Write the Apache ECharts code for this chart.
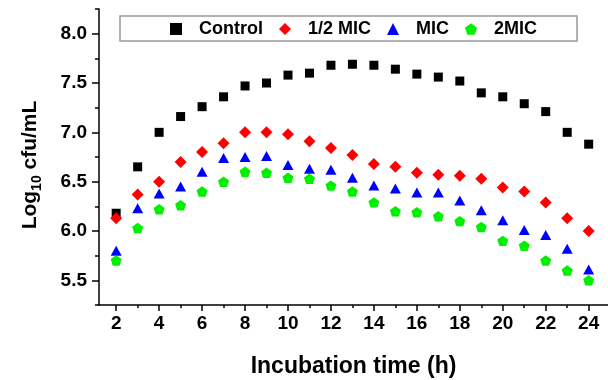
<!DOCTYPE html>
<html>
<head>
<meta charset="utf-8">
<script src="https://cdn.jsdelivr.net/npm/echarts@6/dist/echarts.min.js"></script>
<style>
  html, body { margin: 0; padding: 0; background: #fff; }
  #chart { width: 608px; height: 380px; }
</style>
</head>
<body>
<div id="chart"></div>
<script>
// incubation hours
const hours = [2, 3, 4, 5, 6, 7, 8, 9, 10, 11, 12, 13, 14, 15, 16, 17, 18, 19, 20, 21, 22, 23, 24];

// log10 cfu/mL per group
const control = [6.18, 6.65, 7.00, 7.16, 7.26, 7.36, 7.47, 7.50, 7.58, 7.60, 7.68, 7.69, 7.68, 7.64, 7.59, 7.56, 7.52, 7.40, 7.36, 7.29, 7.21, 7.00, 6.88];
const halfMic = [6.13, 6.37, 6.50, 6.70, 6.80, 6.89, 7.00, 7.00, 6.98, 6.91, 6.84, 6.77, 6.68, 6.65, 6.59, 6.57, 6.56, 6.53, 6.44, 6.40, 6.29, 6.13, 6.00];
const mic = [5.80, 6.23, 6.38, 6.45, 6.60, 6.74, 6.75, 6.76, 6.67, 6.63, 6.62, 6.54, 6.46, 6.43, 6.39, 6.39, 6.31, 6.21, 6.11, 6.01, 5.96, 5.82, 5.61];
const twoMic = [5.70, 6.03, 6.22, 6.26, 6.40, 6.50, 6.60, 6.59, 6.54, 6.53, 6.46, 6.40, 6.29, 6.20, 6.19, 6.15, 6.10, 6.04, 5.90, 5.85, 5.70, 5.60, 5.50];

// ticks
const xMajor = [2, 4, 6, 8, 10, 12, 14, 16, 18, 20, 22, 24];
const xMinor = [3, 5, 7, 9, 11, 13, 15, 17, 19, 21, 23];
const yMajor = [5.5, 6.0, 6.5, 7.0, 7.5, 8.0];
const yMinor = [5.25, 5.75, 6.25, 6.75, 7.25, 7.75, 8.25];

const FONT = 'Arial, "Liberation Sans", sans-serif';
const pentagon = 'path://M50,0 L97.6,34.5 L79.4,90.5 L20.6,90.5 L2.4,34.5 Z';

const pairs = arr => hours.map((h, i) => [h, arr[i]]);

const chart = echarts.init(document.getElementById('chart'));

const axisLine = { show: true, lineStyle: { color: '#000', width: 1.5 } };
const tickStyle = { color: '#000', width: 1.5 };

chart.setOption({
  animation: false,
  legend: {
    left: 120,
    top: 16,
    padding: [4, 40, 3, 50],
    borderColor: '#999',
    borderWidth: 1.5,
    itemGap: 16,
    itemWidth: 12,
    itemHeight: 12,
    textStyle: {
      fontFamily: FONT,
      fontSize: 18,
      fontWeight: 'bold',
      color: '#000',
      padding: [0, 0, 0, 12],
    },
    data: ['Control', '1/2 MIC', 'MIC', '2MIC'],
  },
  grid: { left: 99, right: 0, top: 9, bottom: 75, outerBoundsMode: 'none', containLabel: false },
  xAxis: [
    {
      type: 'value',
      min: 1.2,
      max: 24.9,
      axisLine: axisLine,
      axisTick: { show: true, customValues: xMajor, length: 6, lineStyle: tickStyle },
      axisLabel: { customValues: xMajor, margin: 9, fontFamily: FONT, fontSize: 19, fontWeight: 'bold', color: '#000' },
      splitLine: { show: false },
      name: 'Incubation time (h)',
      nameLocation: 'middle',
      nameGap: 50,
      nameTextStyle: { fontFamily: FONT, fontSize: 23, fontWeight: 'bold', color: '#000' },
    },
    {
      type: 'value',
      position: 'bottom',
      min: 1.2,
      max: 24.9,
      axisLine: { show: false },
      axisTick: { show: true, customValues: xMinor, length: 3, lineStyle: tickStyle },
      axisLabel: { show: false },
      splitLine: { show: false },
    },
  ],
  yAxis: [
    {
      type: 'value',
      min: 5.25,
      max: 8.25,
      axisLine: axisLine,
      axisTick: { show: true, customValues: yMajor, length: 7, lineStyle: tickStyle },
      axisLabel: {
        customValues: yMajor,
        margin: 12,
        formatter: v => v.toFixed(1),
        fontFamily: FONT, fontSize: 19, fontWeight: 'bold', color: '#000',
      },
      splitLine: { show: false },
      name: '{m|Log}{s|10}{m| cfu/mL}',
      nameLocation: 'middle',
      nameGap: 55,
      nameTextStyle: {
        padding: [0, 16, 0, 0],
        rich: {
          m: { fontFamily: FONT, fontSize: 21, fontWeight: 'bold', color: '#000', lineHeight: 24, verticalAlign: 'top', padding: [0, 0, 6, 0] },
          s: { fontFamily: FONT, fontSize: 14, fontWeight: 'bold', color: '#000', lineHeight: 14, verticalAlign: 'bottom' },
        },
      },
    },
    {
      type: 'value',
      position: 'left',
      min: 5.25,
      max: 8.25,
      axisLine: { show: false },
      axisTick: { show: true, customValues: yMinor, length: 4, lineStyle: tickStyle },
      axisLabel: { show: false },
      splitLine: { show: false },
    },
  ],
  series: [
    { name: 'Control', type: 'scatter', symbol: 'rect', symbolSize: 9, itemStyle: { color: '#000', opacity: 1 }, data: pairs(control) },
    { name: '1/2 MIC', type: 'scatter', symbol: 'diamond', symbolSize: 12, itemStyle: { color: '#ff0000', opacity: 1 }, data: pairs(halfMic) },
    { name: 'MIC', type: 'scatter', symbol: 'triangle', symbolSize: [11, 10], itemStyle: { color: '#0000ff', opacity: 1 }, data: pairs(mic) },
    { name: '2MIC', type: 'scatter', symbol: pentagon, symbolKeepAspect: true, symbolSize: 11, itemStyle: { color: '#00f000', opacity: 1 }, data: pairs(twoMic) },
  ],
});
</script>
</body>
</html>
